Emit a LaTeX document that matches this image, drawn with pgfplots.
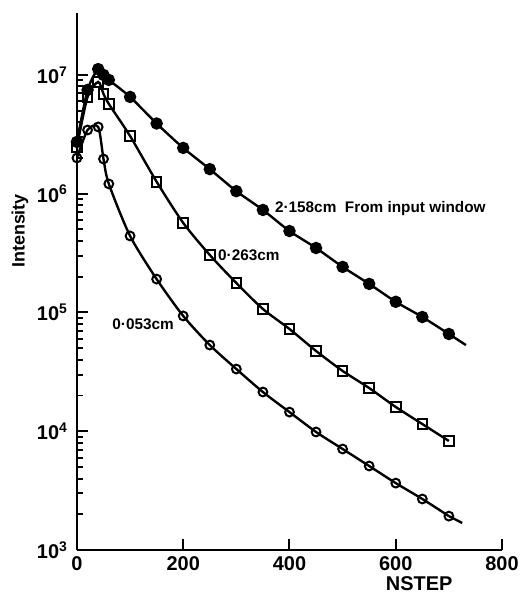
\documentclass[border=0pt]{standalone}
\usepackage{fontspec}
\setmainfont{Liberation Sans}
\usepackage{pgfplots}
\pgfplotsset{compat=1.18}

\begin{document}
\begin{tikzpicture}
\begin{axis}[
    scale only axis,
    width=212.5bp, height=268.5bp,
    ymode=log,
    xmin=0, xmax=800,
    ymin=1e3, ymax=3.33e7,
    axis lines=left,
    axis line style={-, line width=1.1pt},
    tick align=inside,
    major tick length=5.5bp,
    tick style={line width=1pt, black},
    xtick={0,200,400,600,800},
    xticklabels={0,200,400,600,800},
    ytick={1e3,1e4,1e5,1e6,1e7},
    yticklabels={10\textsuperscript{3},10\textsuperscript{4},10\textsuperscript{5},10\textsuperscript{6},10\textsuperscript{7}},
    minor tick num=0,
    ytickten={},
    /pgf/number format/assume math mode=true,
    tick label style={font=\bfseries\fontsize{10}{12}\selectfont},
    yticklabel style={xshift=-1bp},
    xlabel={NSTEP},
    ylabel={Intensity},
    xlabel style={at={(rel axis cs:0.805,0)}, anchor=north, yshift=-10bp, font=\bfseries\fontsize{10}{12}\selectfont},
    ylabel style={at={(rel axis cs:-0.134,0.594)}, anchor=center, font=\bfseries\fontsize{9}{11}\selectfont},
    every axis plot/.append style={black, line width=1.2pt, smooth, tension=0.45},
]
% 2.158 cm
\addplot[mark=*, mark size=2.5bp, mark options={fill=black}] coordinates {
(0,2.73e6) (20,7.48e6) (40,1.12e7) (50,1.0e7) (60,9.08e6) (100,6.53e6) (150,3.9e6)
(200,2.43e6) (250,1.61e6) (300,1.05e6) (350,7.3e5) (400,4.85e5) (450,3.49e5)
(500,2.42e5) (550,1.74e5) (600,1.23e5) (650,9.16e4) (700,6.59e4)};
\addplot[mark=none, smooth=false] coordinates {(700,6.59e4) (732,5.32e4)};
% 0.263 cm
\addplot[mark=square, mark size=2.4bp, mark options={fill=white, line width=1pt}] coordinates {
(0,2.48e6) (20,6.53e6) (40,8.73e6) (50,6.92e6) (60,5.7e6) (100,3.06e6) (150,1.26e6)
(200,5.68e5) (250,3.05e5) (300,1.77e5) (350,1.07e5) (400,7.26e4) (450,4.74e4)
(500,3.22e4) (550,2.31e4) (600,1.60e4) (650,1.15e4) (700,8.28e3)};
% 0.053 cm
\addplot[mark=o, mark size=2.2bp, mark options={fill=white, line width=1pt}] coordinates {
(0,2.0e6) (20,3.44e6) (40,3.65e6) (50,1.96e6) (60,1.21e6) (100,4.41e5) (150,1.91e5)
(200,9.35e4) (250,5.32e4) (300,3.34e4) (350,2.14e4) (400,1.45e4) (450,9.86e3)
(500,7.09e3) (550,5.1e3) (600,3.66e3) (650,2.69e3) (700,1.93e3)};
\addplot[mark=none, smooth=false] coordinates {(700,1.93e3) (725,1.69e3)};

\node[anchor=west, font=\bfseries\fontsize{7.7}{9}\selectfont, inner sep=0pt] at (axis cs:372,7.55e5) {2·158cm\ \ From input window};
\node[anchor=west, font=\bfseries\fontsize{7.7}{9}\selectfont, inner sep=0pt] at (axis cs:265,3.05e5) {0·263cm};
\node[anchor=west, font=\bfseries\fontsize{7.7}{9}\selectfont, inner sep=0pt] at (axis cs:66,8.0e4) {0·053cm};

\coordinate (bl) at (rel axis cs:-0.181,-0.080);
\coordinate (tr) at (rel axis cs:1.054,1.024);
\end{axis}
\pgfresetboundingbox
\path (bl) rectangle (tr);
\end{tikzpicture}
\end{document}
